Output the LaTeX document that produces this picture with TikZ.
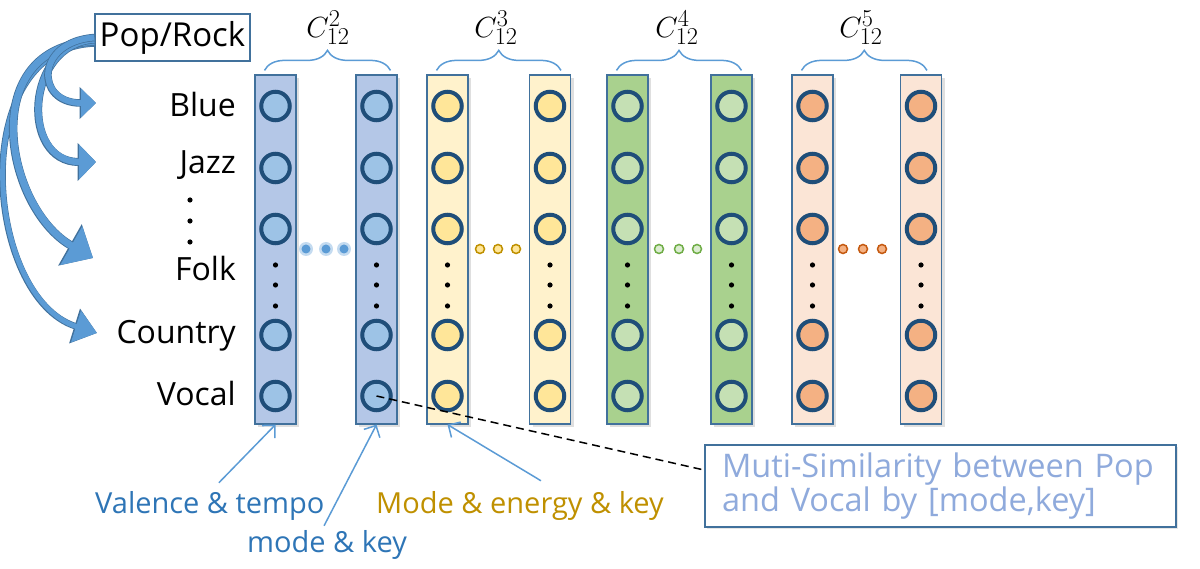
\documentclass[tikz,border=0pt]{standalone}
\usepackage{fontspec}
\setmainfont{Open Sans}
\usepackage{graphicx}
\usepackage{tikz}
\usetikzlibrary{arrows.meta,shadows,decorations.pathreplacing}

\definecolor{edgeblue}{HTML}{41719C}
\definecolor{unitline}{HTML}{1F4E79}
\definecolor{arrowblue}{HTML}{5B9BD5}
\definecolor{bluecol}{HTML}{B4C7E7}
\definecolor{blueunit}{HTML}{9DC3E6}
\definecolor{yellowcol}{HTML}{FFF2CC}
\definecolor{yellowunit}{HTML}{FFE699}
\definecolor{greencol}{HTML}{A9D18E}
\definecolor{greenunit}{HTML}{C5E0B4}
\definecolor{peachcol}{HTML}{FBE5D6}
\definecolor{peachunit}{HTML}{F4B183}
\definecolor{textblue}{HTML}{2E75B6}
\definecolor{textgold}{HTML}{BF9000}
\definecolor{noteblue}{HTML}{8FAADC}
\definecolor{dotgreen}{HTML}{70AD47}
\definecolor{dotorange}{HTML}{C55A11}

\newcommand{\capsize}[1]{\scalebox{1.17}{\fontsize{24.88}{24.88}\selectfont$#1$}}

\tikzset{
  colbox/.style={draw=edgeblue, line width=1.2pt, minimum width=41pt, minimum height=349pt, inner sep=0pt,
    drop shadow={shadow xshift=3pt, shadow yshift=-3pt, opacity=0.25}},
  unit/.style={circle, draw=unitline, line width=4pt, minimum size=28.5pt, inner sep=0pt},
  genre/.style={anchor=base east, inner sep=0pt, font=\fontsize{32}{32}\selectfont},
  feature/.style={anchor=base west, inner sep=0pt, font=\fontsize{29}{29}\selectfont},
  bigarrow/.style={draw=arrowblue, line width=#1},
  pointer/.style={draw=arrowblue, line width=1.5pt, -{Straight Barb[length=9pt,width=18pt]}},
  combo/.style={decorate, decoration={brace, amplitude=20pt}, draw=arrowblue, line width=1.5pt},
  notebox/.style={draw=edgeblue, line width=2pt, fill=white, minimum height=82pt, text width=437pt,
    inner xsep=17pt, align=left, text=noteblue, font=\fontsize{32.5}{32}\selectfont,
    drop shadow={shadow xshift=2pt, shadow yshift=-2pt, opacity=0.2}}
}

\begin{document}
\begin{tikzpicture}[x=1pt, y=1pt]
\useasboundingbox (0,0) rectangle (1200,568);
\node[draw=edgeblue, line width=1.5pt, minimum width=155pt, minimum height=47pt, inner sep=0pt,
  font=\fontsize{33}{33}\selectfont] (poprock) at (172.5,530.5) {Pop/Rock};
\node[genre] (blue) at (236,451) {Blue};
\node[genre] (jazz) at (236,394) {Jazz};
\node[genre] (folk) at (236,287) {Folk};
\node[genre] (country) at (236,224) {Country};
\node[genre] (vocal) at (236,162) {Vocal};
\foreach \y in {368,347,326} \fill (190,\y) circle (2.6);
\coordinate (tipblue) at (96,465);
\coordinate (tipjazz) at (96,406);
\coordinate (tipfolk) at (93,310);
\coordinate (tipcountry) at (97,235);
\draw[bigarrow=5pt, -{Triangle[length=22pt,width=32pt]},
  preaction={draw=edgeblue, line width=6.5pt, -{Triangle[length=23.5pt,width=35pt]}}]
  ([yshift=-6pt]poprock.west) .. controls (-35,520) and (-15,270) .. (tipcountry);
\draw[bigarrow=7pt, -{Triangle[length=25pt,width=43pt]},
  preaction={draw=edgeblue, line width=8.5pt, -{Triangle[length=26.5pt,width=46pt]}}]
  ([yshift=-4pt]poprock.west) .. controls (-25,522) and (5,360) .. (tipfolk);
\draw[bigarrow=6.5pt, -{Triangle[length=17pt,width=34pt]},
  preaction={draw=edgeblue, line width=8pt, -{Triangle[length=18.5pt,width=37pt]}}]
  ([yshift=-2pt]poprock.west) .. controls (25,524) and (20,406) .. (tipjazz);
\draw[bigarrow=6pt, -{Triangle[length=15pt,width=28pt]},
  preaction={draw=edgeblue, line width=7.5pt, -{Triangle[length=16.5pt,width=31pt]}}]
  (poprock.west) .. controls (35,526) and (35,465) .. (tipblue);
\foreach \col/\x/\colfill/\unitfill in {c1/275.5/bluecol/blueunit, c2/376.5/bluecol/blueunit,
  c3/447.5/yellowcol/yellowunit, c4/550/yellowcol/yellowunit, c5/627.5/greencol/greenunit,
  c6/731.5/greencol/greenunit, c7/812.5/peachcol/peachunit, c8/921/peachcol/peachunit} {
  \node[colbox, fill=\colfill] (\col) at (\x,318.5) {};
  \foreach \y [count=\i] in {462,400,339,233,172} \node[unit, fill=\unitfill] (\col-\i) at (\x,\y) {};
  \foreach \y in {303,283,262} \fill (\x,\y) circle (2.6);
}
\foreach \x in {306,326,344} {
  \fill[blueunit, opacity=0.6] (\x,319) circle (7);
  \fill[arrowblue] (\x,319) circle (4.5);
}
\foreach \x in {480,498,516} \filldraw[fill=yellowunit, draw=textgold, line width=1.5pt] (\x,319) circle (4.5);
\foreach \x in {659,679,697} \filldraw[fill=greenunit!60, draw=dotgreen, line width=1.5pt] (\x,319) circle (4.5);
\foreach \x in {843,863,882} \filldraw[fill=peachunit, draw=dotorange, line width=1.5pt] (\x,319) circle (4.5);
\draw[combo] ([xshift=-11pt,yshift=4pt]c1.north) -- ([xshift=14pt,yshift=4pt]c2.north);
\draw[combo] ([xshift=-11pt,yshift=4pt]c3.north) -- ([xshift=11pt,yshift=4pt]c4.north);
\draw[combo] ([xshift=-11pt,yshift=4pt]c5.north) -- ([xshift=10pt,yshift=4pt]c6.north);
\draw[combo] ([xshift=-11pt,yshift=4pt]c7.north) -- ([xshift=6pt,yshift=4pt]c8.north);
\node (cap2) at (328,540) {\capsize{C_{12}^{2}}};
\node (cap3) at (496,540) {\capsize{C_{12}^{3}}};
\node (cap4) at (677,540) {\capsize{C_{12}^{4}}};
\node (cap5) at (861,540) {\capsize{C_{12}^{5}}};
\node[feature, text=textblue] (valence) at (95,55) {Valence \& tempo};
\node[feature, text=textblue] (modekey) at (247,16) {mode \& key};
\node[feature, text=textgold] (energy) at (376,55) {Mode \& energy \& key};
\draw[pointer] ([shift={(9,8)}]valence.north) -- (c1.south);
\draw[pointer] ([shift={(-3,4)}]modekey.north) -- (c2.south);
\draw[pointer] ([shift={(21,10)}]energy.north) -- (c3.south);
\node[notebox] (note) at (940.5,82) {Muti-Similarity between Pop\\and Vocal by [mode,key]};
\draw[line width=1.5pt, dash pattern=on 8pt off 5pt] (c2-5.center) -- ([yshift=16pt]note.west);
\end{tikzpicture}
\end{document}
